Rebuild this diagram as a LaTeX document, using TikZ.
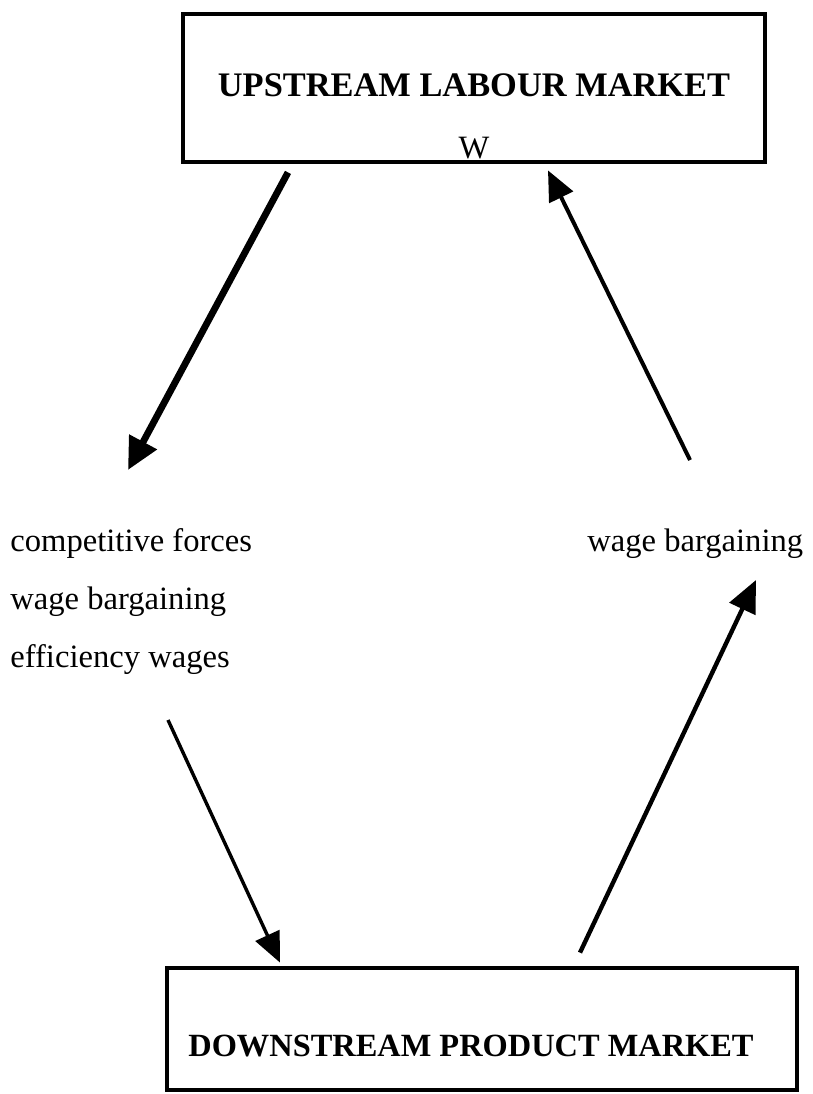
\documentclass[tikz,border=0pt]{standalone}
\usepackage{fontspec}
\setmainfont{Liberation Serif}
\usetikzlibrary{arrows.meta, positioning}
\tikzset{
    market/.style={rectangle, draw, line width=2.4pt, inner sep=0pt},
    title/.style={font=\fontsize{17.2}{20}\selectfont\bfseries, inner sep=0pt},
    factor/.style={font=\fontsize{16.3}{29}\selectfont, inner sep=0pt, align=left, anchor=west},
    arrow/.style={-{Triangle[length=15pt,width=13pt]}, line width=2pt}
}

\begin{document}
\begin{tikzpicture}[x=0.5pt, y=-0.5pt]
    \useasboundingbox (0,0) rectangle (813,1094);

    % upstream market
    \node[market, minimum width=291pt, minimum height=74pt] (upper) at (474,88) {};
    \node[title] (uppername) at (474,85) {UPSTREAM LABOUR MARKET};
    \node[font=\fontsize{16.3}{20}\selectfont, inner sep=0pt] (wage) at (474,148) {W};

    % downstream market
    \node[market, minimum width=315pt, minimum height=61pt] (lower) at (482,1029) {};
    \node[title, font=\fontsize{16.2}{20}\selectfont\bfseries] (lowername) at (471,1046) {DOWNSTREAM PRODUCT MARKET};

    % wage setting
    \node[factor] (forces) at (10,602)
        {competitive forces\\wage bargaining\\efficiency wages};
    \node[factor] (bargain) at (587,544) {wage bargaining};

    % free ends
    \coordinate (forcestop) at (128,470);
    \coordinate (forcesfoot) at (168,720);
    \coordinate (bargaintop) at (690,460);
    \coordinate (bargainfoot) at (756,580);

    % arrows
    \draw[arrow, line width=3.4pt, -{Triangle[length=16pt,width=15pt]}] ([xshift=-93pt,yshift=-4pt]upper.south) -- (forcestop);
    \draw[arrow] (bargaintop) -- ([xshift=37pt,yshift=-3pt]upper.south);
    \draw[arrow, line width=1.7pt] (forcesfoot) -- ([xshift=-101pt,yshift=1.5pt]lower.north);
    \draw[arrow, line width=2.2pt, -{Triangle[length=16pt,width=14pt]}] ([xshift=49pt,yshift=6.5pt]lower.north) -- (bargainfoot);
\end{tikzpicture}
\end{document}
